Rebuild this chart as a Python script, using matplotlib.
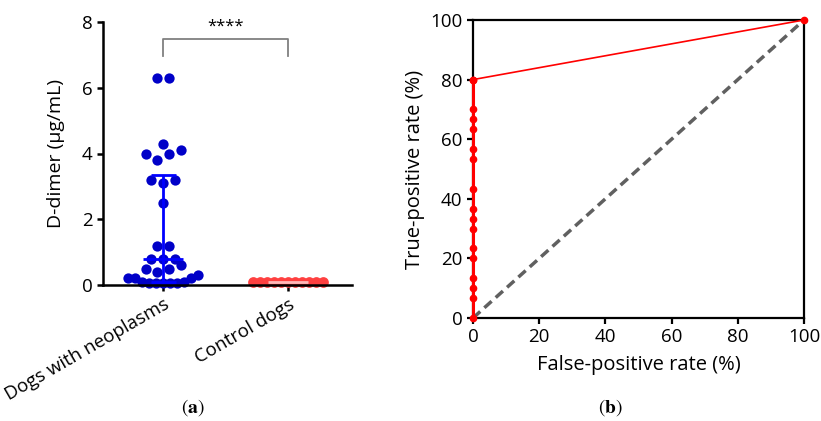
import numpy as np
import matplotlib.pyplot as plt

plt.rcParams['font.family'] = ['Open Sans', 'DejaVu Sans']
plt.rcParams['mathtext.fontset'] = 'stix'

# panel (a): D-dimer values (ug/mL)
groups = ['Dogs with neoplasms', 'Control dogs']
neoplasm = [6.3, 6.3, 4.3, 4.1, 4.0, 4.0, 3.8, 3.2, 3.2, 3.1, 2.5, 1.2, 1.2,
            0.8, 0.8, 0.8, 0.6, 0.5, 0.5, 0.4, 0.3, 0.2, 0.2, 0.2, 0.1, 0.1,
            0.05, 0.05, 0.05, 0.05, 0.05]
control = [0.1] * 11
neo_median, neo_q1, neo_q3 = 0.8, 0.1, 3.36
ctrl_median = 0.1

# panel (b): ROC curve (%)
fpr = [0] * 16 + [100]
tpr = [0, 6.67, 10, 13.33, 20, 23.33, 30, 33.33, 36.67, 43.33, 53.33, 56.67,
       63.33, 66.67, 70, 80, 100]
chance = [0, 100]


def scatter_rows(values, bin_h, step, max_w):
    """group values into rows and spread each row symmetrically
    (smallest values in the middle); returns sorted values and x offsets"""
    vals = sorted(values)
    rows = []
    for v in vals:
        if rows and v - rows[-1][0] <= bin_h:
            rows[-1].append(v)
        else:
            rows.append([v])
    ys, xs = [], []
    for row in rows:
        n = len(row)
        sp = step if n < 2 else min(step, max_w / (n - 1))
        slots = (np.arange(n) - (n - 1) / 2) * sp
        slots = sorted(slots, key=lambda s: (abs(s), s))
        ys += row
        xs += slots
    return np.array(ys), np.array(xs)


fig = plt.figure(figsize=(8.21, 4.21), dpi=100)
fig.patch.set_facecolor('white')

# ---- panel a
ax1 = fig.add_axes([103 / 821, 1 - 285 / 421, 249 / 821, 263 / 421])
ax1.set_xlim(-0.48, 1.51)
ax1.set_ylim(0, 8)

y_neo, dx_neo = scatter_rows(neoplasm, 0.3, 0.093, 0.56)
y_ctl, dx_ctl = scatter_rows(control, 0.3, 0.093, 0.56)
ax1.scatter(0 + dx_neo, y_neo, s=55, color='#0000C8', clip_on=False,
            zorder=2, linewidths=0)
ax1.scatter(1 + dx_ctl, y_ctl, s=60, color='#FF4040', clip_on=False,
            zorder=2, linewidths=0)

# median with IQR
ax1.vlines(0, neo_q1, neo_q3, color='#0000FF', lw=2, zorder=3)
ax1.hlines(neo_median, -0.16, 0.16, color='#0000FF', lw=2, zorder=3)
ax1.hlines([neo_q1, neo_q3], -0.1, 0.1, color='#0000FF', lw=2, zorder=3)
ax1.hlines(ctrl_median, 1 - 0.16, 1 + 0.16, color='#FFB8B8', lw=2, zorder=3)

# significance bracket
ax1.plot([0, 0, 1, 1], [6.96, 7.48, 7.48, 6.96], color='#808080', lw=1.3,
         clip_on=False)
ax1.text(0.5, 7.62, '****', ha='center', va='bottom', fontsize=12)

ax1.set_xticks([0, 1])
ax1.set_xticklabels(groups, rotation=30, ha='right', rotation_mode='anchor',
                    fontsize=12.5)
ax1.set_yticks([0, 2, 4, 6, 8])
ax1.set_ylabel('D-dimer (μg/mL)', fontsize=14, labelpad=12)
for s in ['top', 'right']:
    ax1.spines[s].set_visible(False)
for s in ['left', 'bottom']:
    ax1.spines[s].set_linewidth(1.8)
ax1.tick_params(width=1.8, length=4, labelsize=13.5)

# ---- panel b
ax2 = fig.add_axes([473 / 821, 1 - 318 / 421, 331 / 821, 298 / 421])
ax2.set_xlim(0, 100)
ax2.set_ylim(0, 100)
ax2.plot(chance, chance, color='#606060', lw=2.5, ls=(0, (2.8, 1.6)), zorder=3)
ax2.plot(fpr[:16], tpr[:16], color='#FF0000', lw=2.2, marker='o', ms=4.5,
         clip_on=False, zorder=4)
ax2.plot(fpr[15:], tpr[15:], color='#FF0000', lw=1.2, marker='o', ms=4.5,
         clip_on=False, zorder=4)
ax2.set_xticks(range(0, 101, 20))
ax2.set_yticks(range(0, 101, 20))
ax2.set_xlabel('False-positive rate (%)', fontsize=14.5, labelpad=6)
ax2.set_ylabel('True-positive rate (%)', fontsize=14.5)
for s in ax2.spines.values():
    s.set_linewidth(1.6)
ax2.tick_params(width=1.6, length=4, labelsize=13.5)

fig.text(193 / 821, 1 - 408 / 421, r'$(\mathbf{a})$', ha='center', va='center',
         fontsize=14)
fig.text(610 / 821, 1 - 408 / 421, r'$(\mathbf{b})$', ha='center', va='center',
         fontsize=14)

fig.savefig('out.png', dpi=100)
